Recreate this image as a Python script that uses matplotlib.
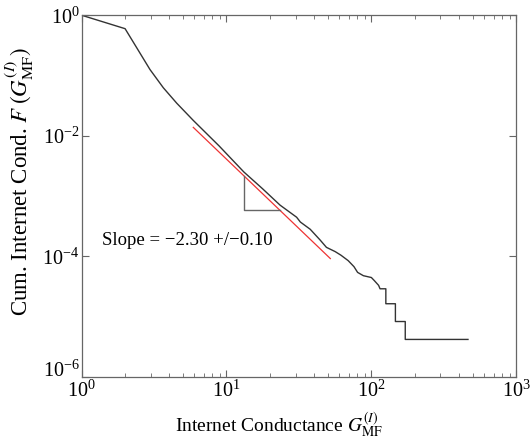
import matplotlib
matplotlib.use("Agg")
import matplotlib.pyplot as plt
import numpy as np

plt.rcParams["font.family"] = ["Liberation Serif", "DejaVu Serif"]
plt.rcParams["mathtext.fontset"] = "stix"

# Cumulative distribution of internet conductance (log10 coordinates)
log_g = [0.0, 0.300, 0.381, 0.472, 0.564, 0.657, 0.771, 0.950, 1.120, 1.250,
         1.370, 1.484, 1.510, 1.578, 1.647, 1.690, 1.750, 1.790, 1.840, 1.880,
         1.905, 1.945, 2.000, 2.020, 2.050, 2.060, 2.100, 2.100, 2.166, 2.166,
         2.234, 2.234, 2.667]
log_f = [0.0, -0.223, -0.542, -0.901, -1.203, -1.460, -1.745, -2.170, -2.600, -2.880,
         -3.150, -3.350, -3.430, -3.550, -3.730, -3.850, -3.920, -3.980, -4.070, -4.170,
         -4.265, -4.320, -4.350, -4.400, -4.480, -4.537, -4.537, -4.785, -4.785, -5.080,
         -5.080, -5.377, -5.377]

# Power-law fit
slope = -2.30
slope_err = 0.10
log_amp = -0.087
fit_range = [5.90, 52.1]
triangle_x = [13.2, 23.4]

g = 10 ** np.array(log_g)
f = 10 ** np.array(log_f)

fig = plt.figure(figsize=(5.30, 4.48), dpi=100)
ax = fig.add_axes([0.154, 0.1585, 0.820, 0.8075])

ax.plot(g, f, color="#333333", lw=1.0)

xf = np.array(fit_range)
ax.plot(xf, 10 ** log_amp * xf ** slope, color="#ee3333", lw=0.9)

# slope triangle under the fit line
tx0, tx1 = triangle_x
ty0 = 10 ** log_amp * tx0 ** slope
ty1 = 10 ** log_amp * tx1 ** slope
ax.plot([tx0, tx0, tx1], [ty0, ty1, ty1], color="#666666", lw=1.0)

ax.text(1.39, 10 ** -3.73, f"Slope = \u2212{abs(slope):.2f} +/\u2212{slope_err:.2f}",
        fontsize=13.5, va="center", ha="left")

ax.set_xscale("log")
ax.set_yscale("log")
ax.set_xlim(1, 1000)
ax.set_ylim(1e-6, 1)
ax.set_yticks([1e-6, 1e-4, 1e-2, 1])
ax.yaxis.set_minor_locator(matplotlib.ticker.NullLocator())

for s in ax.spines.values():
    s.set_color("#666666")
    s.set_linewidth(0.9)
ax.tick_params(which="both", direction="in", top=True, right=True,
               colors="#666666", labelcolor="black", labelsize=14.5)
ax.tick_params(which="major", length=5)
ax.tick_params(which="minor", length=3)
ax.tick_params(axis="y", pad=1.5)
ax.tick_params(axis="x", pad=2.5)

# lift the bottom y label so it clears the first x label
ax.get_yticklabels()[0].set_va("baseline")

ax.set_xlabel(r"Internet Conductance $G^{(I)}_{\mathrm{MF}}$", fontsize=14)
ax.set_ylabel(r"Cum. Internet Cond. $F\;(G^{(I)}_{\mathrm{MF}})$", fontsize=16.5)
ax.xaxis.set_label_coords(0.455, -0.095)
ax.yaxis.set_label_coords(-0.105, 0.54)

fig.savefig("out.png", dpi=100)
